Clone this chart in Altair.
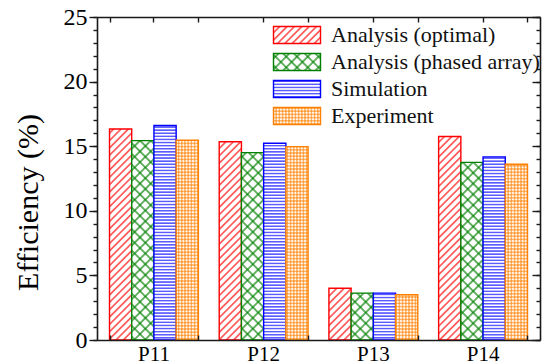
import altair as alt
import pandas as pd
import jinja2

groups = ["P11", "P12", "P13", "P14"]
series = ["Analysis (optimal)", "Analysis (phased array)", "Simulation", "Experiment"]
optimal = [16.33, 15.35, 4.0, 15.75]
phased = [15.43, 14.5, 3.63, 13.75]
simulation = [16.6, 15.23, 3.63, 14.17]
experiment = [15.46, 14.97, 3.5, 13.6]
y_major = [0, 5, 10, 15, 20, 25]
y_minor = list(range(0, 26))

fills = ["url(#hRed)", "url(#hGreen)", "url(#hBlue)", "url(#hOrange)"]
strokes = ["#FF0000", "#008000", "#0000FF", "#FF8000"]

rows = []
for name, vals in zip(series, [optimal, phased, simulation, experiment]):
    for g, v in zip(groups, vals):
        rows.append({"group": g, "series": name, "value": v})
df = pd.DataFrame(rows)

W, H = 443, 323
FONT = "Liberation Serif"
AX = dict(domainColor="#1a1a1a", tickColor="#1a1a1a", domainWidth=1.6, tickWidth=1.4,
          grid=False, zindex=1, labelFont=FONT, labelColor="black")

xscale = alt.Scale(paddingInner=0.19, paddingOuter=0.114)
yscale = alt.Scale(domain=[0, 25], nice=False, zero=True)

legend = alt.Legend(orient="none", legendX=189, legendY=7, title=None,
                    symbolType="M-2.35,-0.85H2.35V0.85H-2.35Z", symbolSize=400,
                    symbolStrokeWidth=1.4, symbolOpacity=1, labelFont=FONT, labelFontSize=22,
                    labelColor="#111", labelOffset=23, labelLimit=400, rowPadding=3, padding=0)

bars = alt.Chart(df).mark_bar(strokeWidth=1.4).encode(
    x=alt.X("group:N", sort=groups, scale=xscale,
            axis=alt.Axis(orient="bottom", ticks=False, labelFontSize=21, labelPadding=3,
                          labelAngle=0, title=None, **AX)),
    xOffset=alt.XOffset("series:N", sort=series, scale=alt.Scale(paddingInner=0, paddingOuter=0)),
    y=alt.Y("value:Q", scale=yscale,
            axis=alt.Axis(orient="left", values=y_major, tickSize=8, labelFontSize=24,
                          labelPadding=2, title="Efficiency (%)", titleFont=FONT,
                          titleFontSize=30, titleFontWeight="normal", titleColor="black",
                          titleAngle=-90, titleAlign="center", titleBaseline="alphabetic",
                          titleX=-60, titleY=185, **AX)),
    fill=alt.Fill("series:N", sort=series, scale=alt.Scale(domain=series, range=fills), legend=legend),
    stroke=alt.Stroke("series:N", sort=series, scale=alt.Scale(domain=series, range=strokes), legend=legend),
)

def dummy(xaxis, yaxis):
    return alt.Chart(df).mark_bar(opacity=0).encode(
        x=alt.X("group:N", sort=groups, scale=xscale, axis=xaxis),
        y=alt.Y("value:Q", scale=yscale, axis=yaxis),
    )

l1 = dummy(
    alt.Axis(orient="top", offset=-H, tickBand="extent", tickSize=5, labels=False, domain=False, title=None, **AX),
    alt.Axis(orient="left", values=y_minor, tickSize=4, labels=False, domain=False, title=None, **AX),
)
l2 = dummy(
    alt.Axis(orient="bottom", offset=-H, tickSize=5, labels=False, domain=True, title=None, **AX),
    alt.Axis(orient="left", offset=-W, values=y_major, tickSize=8, labels=False, domain=True, title=None, **AX),
)
l3 = dummy(
    alt.Axis(orient="bottom", offset=-H, tickBand="extent", tickSize=5, labels=False, domain=False, title=None, **AX),
    alt.Axis(orient="left", offset=-W, values=y_minor, tickSize=4, labels=False, domain=False, title=None, **AX),
)

chart = alt.layer(bars, l1, l2, l3).resolve_axis(x="independent", y="independent").properties(
    width=W, height=H,
    autosize=alt.AutoSizeParams(type="none"),
    padding={"left": 97, "top": 17, "right": 2, "bottom": 24},
    title=alt.TitleParams("(a) P1-P10", font=FONT, fontSize=25, fontWeight="normal", color="black",
                          baseline="alphabetic", offset=13, dx=-22, anchor="middle"),
).configure_view(stroke=None).configure(background="white", font=FONT)

PATTERNS = """<svg width="0" height="0" style="position:absolute;left:0;top:0" aria-hidden="true">
<defs>
<pattern id="hRed" patternUnits="userSpaceOnUse" width="5.2" height="5.2" patternTransform="rotate(45)">
<rect width="5.2" height="5.2" fill="white"/>
<line x1="2.6" y1="-1" x2="2.6" y2="6.2" stroke="#FF0000" stroke-width="1.1"/>
</pattern>
<pattern id="hGreen" patternUnits="userSpaceOnUse" width="7.6" height="7.6" patternTransform="rotate(45)">
<rect width="7.6" height="7.6" fill="white"/>
<line x1="3.8" y1="-1" x2="3.8" y2="8.6" stroke="#008000" stroke-width="1.2"/>
<line x1="-1" y1="3.8" x2="8.6" y2="3.8" stroke="#008000" stroke-width="1.2"/>
</pattern>
<pattern id="hBlue" patternUnits="userSpaceOnUse" width="6" height="3.1">
<rect width="6" height="3.1" fill="white"/>
<line x1="-1" y1="1.55" x2="7" y2="1.55" stroke="#0000FF" stroke-width="1"/>
</pattern>
<pattern id="hOrange" patternUnits="userSpaceOnUse" width="3.2" height="3.2">
<rect width="3.2" height="3.2" fill="white"/>
<line x1="-1" y1="1.6" x2="4.2" y2="1.6" stroke="#FF8000" stroke-width="0.9"/>
<line x1="1.6" y1="-1" x2="1.6" y2="4.2" stroke="#FF8000" stroke-width="0.9"/>
</pattern>
</defs>
</svg>"""

TEMPLATE = jinja2.Template("""<!DOCTYPE html>
<html>
<head>
  <meta charset="utf-8">
  <style>
    #{{ output_div }}.vega-embed {
      width: 100%;
      display: flex;
    }
    #{{ output_div }}.vega-embed details,
    #{{ output_div }}.vega-embed details summary {
      position: relative;
    }
  </style>
  <script type="text/javascript" src="{{ base_url }}/vega@{{ vega_version }}"></script>
  <script type="text/javascript" src="{{ base_url }}/vega-lite@{{ vegalite_version }}"></script>
  <script type="text/javascript" src="{{ base_url }}/vega-embed@{{ vegaembed_version }}"></script>
</head>
<body>
""" + PATTERNS + """
<div id="{{ output_div }}"></div>
<script>
  (function(vegaEmbed) {
    var spec = {{ spec }};
    var embedOpt = {{ embed_options }};
    function showError(el, error){
        el.innerHTML = ('<div style="color:red;"><p>JavaScript Error: ' + error.message + '</p></div>');
        throw error;
    }
    const el = document.getElementById('{{ output_div }}');
    vegaEmbed("#{{ output_div }}", spec, embedOpt)
      .catch(error => showError(el, error));
  })(vegaEmbed);
</script>
</body>
</html>
""")

chart.save("out.html", embed_options={"renderer": "svg", "actions": False}, template=TEMPLATE)
